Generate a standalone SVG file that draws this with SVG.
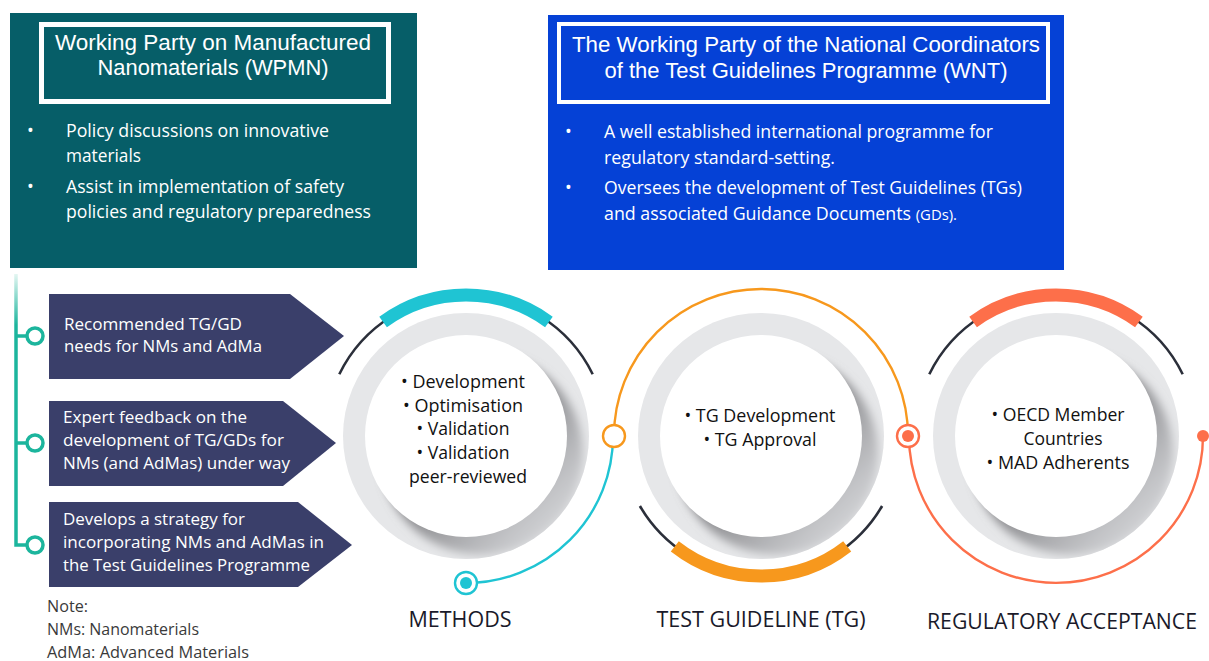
<svg xmlns="http://www.w3.org/2000/svg" width="1209" height="661" viewBox="0 0 1209 661">
  <style>
    text { font-family: "Open Sans", "Liberation Sans", sans-serif; }
    .wt { fill: #ffffff; }
    .title { font-family: "Liberation Sans", Arial, sans-serif; font-size: 21.5px; }
    .bul { font-size: 18px; }
    .arr { font-size: 17px; fill: #ffffff; }
    .note { font-size: 15.5px; fill: #3a3a3a; }
    .inner { font-size: 17.5px; fill: #111111; text-anchor: middle; }
    .label { font-size: 21px; fill: #1a1a2a; text-anchor: middle; }
    .ring { fill: #e6e7e9; }
    .face { fill: #ffffff; }
    .thin { fill: none; stroke: #2b2f3a; stroke-width: 2.6; }
    .thick { fill: none; stroke-width: 13; }
    .link { fill: none; stroke-width: 2.4; }
    .pent { fill: #3a3f6a; }
    .tab { fill: #ffffff; stroke: #1cb59d; stroke-width: 3.5; }
  </style>
  <defs>
    <linearGradient id="spineGrad" gradientUnits="userSpaceOnUse" x1="0" y1="274" x2="0" y2="325">
      <stop offset="0" stop-color="#e4f6f2"/>
      <stop offset="1" stop-color="#1cb59d"/>
    </linearGradient>
    <linearGradient id="shadeGrad" x1="0.1" y1="0.1" x2="1" y2="1">
      <stop offset="0.35" stop-color="#7f7f82"/>
      <stop offset="0.75" stop-color="#c4c5c8"/>
      <stop offset="1" stop-color="#e6e7e9"/>
    </linearGradient>
    <clipPath id="discClip">
      <circle cx="0" cy="0" r="123"/>
    </clipPath>
    <filter id="soft" x="-30%" y="-30%" width="160%" height="160%">
      <feGaussianBlur stdDeviation="5"/>
    </filter>
    <!-- grey disc with a soft shadow falling to the lower right of the white face -->
    <g id="disc">
      <circle class="ring" cx="0" cy="0" r="123"/>
      <g clip-path="url(#discClip)">
        <circle cx="16" cy="18" r="101" fill="url(#shadeGrad)" filter="url(#soft)"/>
      </g>
      <circle class="face" cx="0" cy="0" r="101"/>
    </g>
  </defs>

  <!-- WPMN panel -->
  <g id="wpmn">
    <rect x="10" y="13" width="407" height="255" fill="#065e68"/>
    <rect x="41.5" y="24.5" width="347" height="77" fill="#065e68" stroke="#ffffff" stroke-width="5"/>
    <text class="wt title" x="213" y="50" text-anchor="middle" textLength="316" lengthAdjust="spacingAndGlyphs">Working Party on Manufactured</text>
    <text class="wt title" x="213" y="75" text-anchor="middle" textLength="231" lengthAdjust="spacingAndGlyphs">Nanomaterials (WPMN)</text>
    <text class="wt bul" x="27" y="137">•</text>
    <text class="wt bul" x="66" y="137" textLength="263" lengthAdjust="spacingAndGlyphs">Policy discussions on innovative</text>
    <text class="wt bul" x="66" y="162" textLength="75" lengthAdjust="spacingAndGlyphs">materials</text>
    <text class="wt bul" x="27" y="193">•</text>
    <text class="wt bul" x="66" y="193" textLength="278" lengthAdjust="spacingAndGlyphs">Assist in implementation of safety</text>
    <text class="wt bul" x="66" y="218" textLength="305" lengthAdjust="spacingAndGlyphs">policies and regulatory preparedness</text>
  </g>

  <!-- WNT panel -->
  <g id="wnt">
    <rect x="548" y="15" width="516" height="255" fill="#0541d6"/>
    <rect x="559" y="24" width="489" height="78" fill="#0541d6" stroke="#ffffff" stroke-width="4"/>
    <text class="wt title" x="806" y="52" text-anchor="middle" textLength="468" lengthAdjust="spacingAndGlyphs">The Working Party of the National Coordinators</text>
    <text class="wt title" x="806" y="78" text-anchor="middle" textLength="403" lengthAdjust="spacingAndGlyphs">of the Test Guidelines Programme (WNT)</text>
    <text class="wt bul" x="565" y="138">•</text>
    <text class="wt bul" x="604" y="138" textLength="389" lengthAdjust="spacingAndGlyphs">A well established international programme for</text>
    <text class="wt bul" x="604" y="164" textLength="231" lengthAdjust="spacingAndGlyphs">regulatory standard-setting.</text>
    <text class="wt bul" x="565" y="194">•</text>
    <text class="wt bul" x="604" y="194" textLength="418" lengthAdjust="spacingAndGlyphs">Oversees the development of Test Guidelines (TGs)</text>
    <text class="wt bul" x="604" y="220" textLength="353" lengthAdjust="spacingAndGlyphs">and associated Guidance Documents <tspan font-size="15">(GDs).</tspan></text>
  </g>

  <!-- WPMN contributions -->
  <g id="spine">
    <path d="M16,274 V545 H27" fill="none" stroke="url(#spineGrad)" stroke-width="3.5"/>
    <path d="M16,336 H27 M16,443 H27" fill="none" stroke="#1cb59d" stroke-width="3.5"/>
    <circle class="tab" cx="35" cy="336" r="8"/>
    <circle class="tab" cx="35" cy="443" r="8"/>
    <circle class="tab" cx="35" cy="545" r="8"/>
  </g>
  <g id="need-1">
    <polygon class="pent" points="49,294 290,294 344,336 290,379 49,379"/>
    <text class="arr" x="64" y="330" textLength="178" lengthAdjust="spacingAndGlyphs">Recommended TG/GD</text>
    <text class="arr" x="64" y="352" textLength="198" lengthAdjust="spacingAndGlyphs">needs for NMs and AdMa</text>
  </g>
  <g id="need-2">
    <polygon class="pent" points="49,401 283,401 336,443 283,486 49,486"/>
    <text class="arr" x="63" y="423" textLength="184" lengthAdjust="spacingAndGlyphs">Expert feedback on the</text>
    <text class="arr" x="63" y="446" textLength="221" lengthAdjust="spacingAndGlyphs">development of  TG/GDs for</text>
    <text class="arr" x="63" y="469" textLength="227" lengthAdjust="spacingAndGlyphs">NMs (and AdMas) under way</text>
  </g>
  <g id="need-3">
    <polygon class="pent" points="49,502 298,502 352,545 298,587 49,587"/>
    <text class="arr" x="63" y="525" textLength="182" lengthAdjust="spacingAndGlyphs">Develops a strategy for</text>
    <text class="arr" x="63" y="548" textLength="261" lengthAdjust="spacingAndGlyphs">incorporating NMs and AdMas in</text>
    <text class="arr" x="63" y="571" textLength="247" lengthAdjust="spacingAndGlyphs">the Test Guidelines Programme</text>
  </g>
  <g id="note">
    <text class="note" x="47" y="612" textLength="41" lengthAdjust="spacingAndGlyphs">Note:</text>
    <text class="note" x="47" y="635" textLength="152" lengthAdjust="spacingAndGlyphs">NMs: Nanomaterials</text>
    <text class="note" x="47" y="658" textLength="202" lengthAdjust="spacingAndGlyphs">AdMa: Advanced Materials</text>
  </g>

  <!-- connecting arcs between the stages -->
  <g id="connectors">
    <path class="link" stroke="#1fc4d3" d="M466,583 A147,147 0 0 0 613,436"/>
    <path class="link" stroke="#f7981d" d="M614,436 A147,147 0 0 1 908,436"/>
    <path class="link" stroke="#fd6f4a" d="M909,436 A147,147 0 0 0 1203,436"/>
    <circle cx="466" cy="583" r="11" fill="#ffffff" stroke="#1fc4d3" stroke-width="2.4"/>
    <circle cx="466" cy="583" r="6" fill="#1fc4d3"/>
    <circle cx="614" cy="436" r="11" fill="#ffffff" stroke="#f7981d" stroke-width="2.4"/>
    <circle cx="908" cy="436" r="11" fill="#ffffff" stroke="#fd6f4a" stroke-width="2.4"/>
    <circle cx="908" cy="436" r="6" fill="#fd6f4a"/>
    <circle cx="1203" cy="436" r="6" fill="#fd6f4a"/>
  </g>

  <!-- Methods -->
  <g id="methods">
    <g transform="translate(466,436)">
      <use href="#disc"/>
      <path class="thin" d="M-126.7,-61.8 A141,141 0 0 1 126.7,-61.8"/>
      <path class="thick" stroke="#1fc4d3" d="M-82.9,-114.1 A141,141 0 0 1 82.9,-114.1"/>
    </g>
    <text class="inner" x="463" y="388" textLength="124" lengthAdjust="spacingAndGlyphs">• Development</text>
    <text class="inner" x="463" y="412" textLength="120" lengthAdjust="spacingAndGlyphs">• Optimisation</text>
    <text class="inner" x="463" y="435" textLength="93" lengthAdjust="spacingAndGlyphs">• Validation</text>
    <text class="inner" x="463" y="459" textLength="93" lengthAdjust="spacingAndGlyphs">• Validation</text>
    <text class="inner" x="468" y="483" textLength="118" lengthAdjust="spacingAndGlyphs">peer-reviewed</text>
    <text class="label" x="460" y="627" textLength="103" lengthAdjust="spacingAndGlyphs">METHODS</text>
  </g>

  <!-- Test Guideline -->
  <g id="test-guideline">
    <g transform="translate(761,436)">
      <use href="#disc"/>
      <path class="thin" d="M-121.1,70 A140,140 0 0 0 121.1,70"/>
      <path class="thick" stroke="#f7981d" d="M-86.2,110.3 A140,140 0 0 0 86.2,110.3"/>
    </g>
    <text class="inner" x="760" y="422" textLength="151" lengthAdjust="spacingAndGlyphs">• TG Development</text>
    <text class="inner" x="760" y="446" textLength="113" lengthAdjust="spacingAndGlyphs">• TG Approval</text>
    <text class="label" x="761" y="627" textLength="209" lengthAdjust="spacingAndGlyphs">TEST GUIDELINE (TG)</text>
  </g>

  <!-- Regulatory acceptance -->
  <g id="regulatory-acceptance">
    <g transform="translate(1056,436)">
      <use href="#disc"/>
      <path class="thin" d="M-126.7,-61.8 A141,141 0 0 1 126.7,-61.8"/>
      <path class="thick" stroke="#fd6f4a" d="M-82.9,-114.1 A141,141 0 0 1 82.9,-114.1"/>
    </g>
    <text class="inner" x="1058" y="421" textLength="133" lengthAdjust="spacingAndGlyphs">• OECD Member</text>
    <text class="inner" x="1063" y="445" textLength="79" lengthAdjust="spacingAndGlyphs">Countries</text>
    <text class="inner" x="1058" y="469" textLength="143" lengthAdjust="spacingAndGlyphs">• MAD Adherents</text>
    <text class="label" x="1062" y="629" textLength="270" lengthAdjust="spacingAndGlyphs">REGULATORY ACCEPTANCE</text>
  </g>
</svg>
